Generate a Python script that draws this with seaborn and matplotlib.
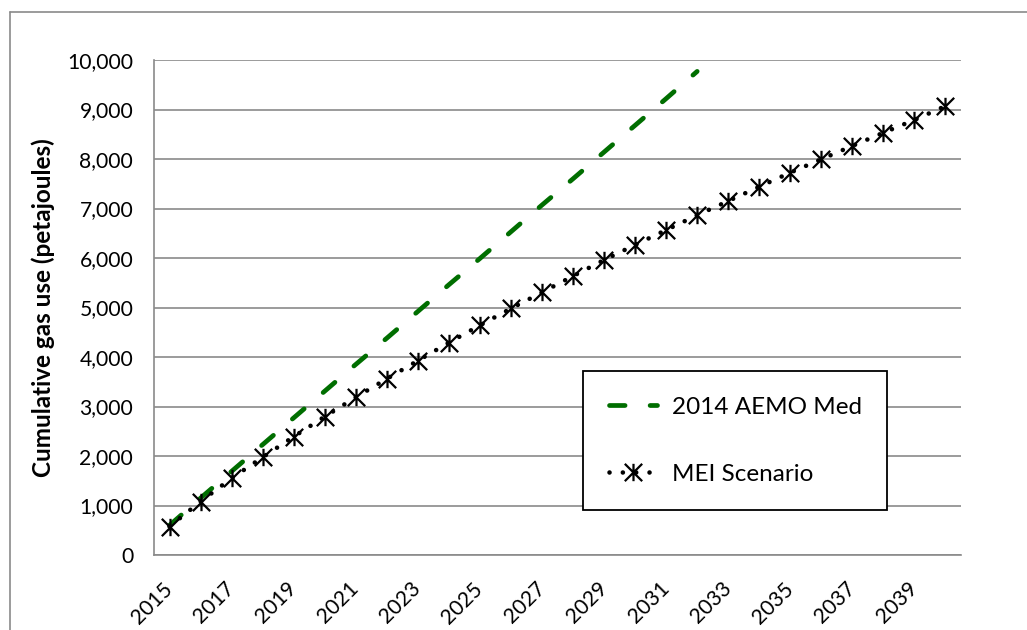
import numpy as np
import pandas as pd
import matplotlib
matplotlib.use("Agg")
import matplotlib.pyplot as plt
import seaborn as sns
from matplotlib.path import Path
from matplotlib.lines import Line2D
from matplotlib.ticker import FuncFormatter

# ---- data ----
years = list(range(2015, 2041))
aemo_years = list(range(2015, 2033))
aemo_med = [600, 1150, 1690, 2230, 2770, 3310, 3850, 4380, 4920,
            5460, 5990, 6530, 7070, 7600, 8140, 8680, 9220, 9770]
mei_scenario = [575, 1080, 1550, 1975, 2390, 2795, 3185, 3560, 3925,
                4290, 4640, 4980, 5305, 5635, 5960, 6265, 6565, 6865,
                7150, 7440, 7725, 7995, 8265, 8530, 8790, 9070]
label_years = list(range(2015, 2041, 2))

df_aemo = pd.DataFrame({"Year": aemo_years, "Gas": aemo_med})
df_mei = pd.DataFrame({"Year": years, "Gas": mei_scenario})

GREEN = "#006e00"
GRID = "#8a8a8a"

sns.set_style("white")
plt.rcParams["font.family"] = ["Lato", "DejaVu Sans"]
plt.rcParams["text.color"] = "black"
plt.rcParams["xtick.color"] = "black"
plt.rcParams["ytick.color"] = "black"
plt.rcParams["axes.labelcolor"] = "black"

fig = plt.figure(figsize=(10.27, 6.3), dpi=100)
ax = fig.add_axes([154 / 1027, 75 / 630, 807 / 1027, 495 / 630])

# Excel style asterisk marker (x + vertical bar)
star = Path([(0, -1), (0, 1), (-1, -1), (1, 1), (-1, 1), (1, -1)],
            [Path.MOVETO, Path.LINETO, Path.MOVETO, Path.LINETO, Path.MOVETO, Path.LINETO])

sns.lineplot(data=df_aemo, x="Year", y="Gas", ax=ax, color=GREEN, lw=3.4,
             linestyle=(0, (3.3, 5.3)), dash_capstyle="round",
             label="2014 AEMO Med")
sns.lineplot(data=df_mei, x="Year", y="Gas", ax=ax, color="black", lw=3.3,
             linestyle=(0, (0.01, 2.9)), dash_capstyle="round",
             marker=star, markersize=12.5, markeredgewidth=1.6,
             markeredgecolor="black", markerfacecolor="none",
             label="MEI Scenario")

# axes / grid
ax.set_xlim(2014.5, 2040.5)
ax.set_ylim(0, 10000)
ax.set_yticks(np.arange(0, 10001, 1000))
ax.yaxis.set_major_formatter(FuncFormatter(lambda v, p: f"{v:,.0f}"))
ax.grid(axis="y", color=GRID, lw=1.2)
ax.set_axisbelow(True)

# x: tick marks between categories, labels every 2 years
ax.set_xticks(np.arange(2014.5, 2041, 1))
ax.set_xticklabels([])
ax.set_xticks(label_years, minor=True)
ax.set_xticklabels([str(y) for y in label_years], minor=True, rotation=45,
                   ha="right", va="center", rotation_mode="anchor")
ax.tick_params(axis="x", which="major", length=5, width=1.2, color=GRID, direction="out")
ax.tick_params(axis="x", which="minor", length=0, pad=22, labelsize=15.2, labelcolor="black")
ax.tick_params(axis="y", length=5, width=1.2, color=GRID, direction="out", pad=10,
               labelsize=15.2, labelcolor="black")

for s in ["top", "right"]:
    ax.spines[s].set_visible(False)
for s in ["left", "bottom"]:
    ax.spines[s].set_color(GRID)
    ax.spines[s].set_linewidth(1.2)

ax.set_xlabel("")
ax.set_ylabel("Cumulative gas use (petajoules)", fontsize=17.5, fontweight="bold",
              labelpad=9, color="black")

leg = ax.legend(loc="upper left", bbox_to_anchor=((583 - 154) / 807, (555 - 371) / 495),
                borderaxespad=0, fontsize=17.5, frameon=True, fancybox=False,
                framealpha=1, edgecolor="black", handlelength=2.0,
                labelspacing=1.9, borderpad=1.05, handletextpad=0.6, numpoints=1)
leg.get_frame().set_linewidth(1.3)

# outer chart border (as in the Excel export)
fig.add_artist(Line2D([10 / 1027, 10 / 1027], [0, 1 - 12 / 630], transform=fig.transFigure,
                      color=GRID, lw=1.2))
fig.add_artist(Line2D([10 / 1027, 1], [1 - 12 / 630, 1 - 12 / 630], transform=fig.transFigure,
                      color=GRID, lw=1.2))

fig.savefig("out.png", dpi=100)
